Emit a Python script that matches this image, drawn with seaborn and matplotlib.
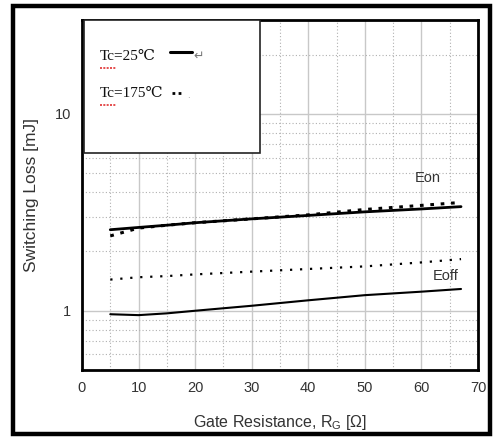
import matplotlib
matplotlib.use("Agg")
import matplotlib.pyplot as plt
from matplotlib.patches import Rectangle
from matplotlib.lines import Line2D
from matplotlib.ticker import FixedLocator, NullFormatter
import seaborn as sns
import pandas as pd

# ---- data ----
rg = [5, 10, 15, 20, 30, 40, 50, 60, 67]
eon_25 = [2.58, 2.65, 2.72, 2.80, 2.93, 3.05, 3.18, 3.29, 3.38]
eon_175 = [2.40, 2.63, 2.72, 2.80, 2.93, 3.07, 3.27, 3.43, 3.55]
eoff_25 = [0.96, 0.95, 0.97, 1.00, 1.06, 1.13, 1.20, 1.25, 1.29]
eoff_175 = [1.44, 1.48, 1.50, 1.53, 1.58, 1.63, 1.68, 1.76, 1.83]

x_ticks = [0, 10, 20, 30, 40, 50, 60, 70]
y_ticks = [1, 10]
y_tick_labels = ["1", "10"]
legend_labels = ["Tc=25℃", "Tc=175℃"]
curve_labels = ["Eon", "Eoff"]

df = pd.concat([
    pd.DataFrame({"Rg": rg, "E": eon_25, "series": "Eon 25"}),
    pd.DataFrame({"Rg": rg, "E": eon_175, "series": "Eon 175"}),
    pd.DataFrame({"Rg": rg, "E": eoff_25, "series": "Eoff 25"}),
    pd.DataFrame({"Rg": rg, "E": eoff_175, "series": "Eoff 175"}),
])

sns.set_theme(style="white")
plt.rcParams["font.family"] = ["Liberation Sans", "DejaVu Sans"]

fig = plt.figure(figsize=(4.93, 4.38), dpi=100)
ax = fig.add_axes([82 / 493, 1 - 370 / 438, (478 - 82) / 493, (370 - 20) / 438])

styles = {
    "Eon 25": dict(lw=2.0, ls="-"),
    "Eon 175": dict(lw=2.2, ls=(0, (1.2, 2.2))),
    "Eoff 25": dict(lw=1.5, ls="-"),
    "Eoff 175": dict(lw=1.6, ls=(0, (1.0, 3.5))),
}
for name, st in styles.items():
    sub = df[df["series"] == name]
    sns.lineplot(data=sub, x="Rg", y="E", ax=ax, color="black",
                 linewidth=st["lw"], linestyle=st["ls"], zorder=3,
                 legend=False, estimator=None)

ax.set_yscale("log")
ax.set_xlim(0, 70)
ax.set_ylim(0.5, 30)

ax.xaxis.set_major_locator(FixedLocator(x_ticks))
ax.xaxis.set_minor_locator(FixedLocator([5, 15, 25, 35, 45, 55, 65]))
ax.yaxis.set_major_locator(FixedLocator(y_ticks))
ax.set_yticklabels(y_tick_labels)
ax.yaxis.set_minor_locator(FixedLocator([0.6, 0.7, 0.8, 0.9, 2, 3, 4, 5, 6, 7, 8, 9, 20, 30]))
ax.yaxis.set_minor_formatter(NullFormatter())

ax.grid(which="major", color="#c8c8c8", lw=1.0, ls="-", zorder=0)
ax.grid(which="minor", color="#b0b0b0", lw=0.8, ls=(0, (1, 2)), zorder=0)
ax.tick_params(which="both", length=0, labelsize=10.5, colors="#333333", pad=8)

for s in ax.spines.values():
    s.set_color("black")
    s.set_linewidth(2.0)

ax.set_xlabel("Gate Resistance, R$_\\mathregular{G}$ [Ω]", fontsize=11.5, color="#333333", labelpad=13)
ax.set_ylabel("Switching Loss [mJ]", fontsize=12.5, color="#333333", labelpad=11)

# curve labels
ax.text(58.8, 4.7, curve_labels[0], fontsize=10.5, color="#333333", va="center", zorder=4)
ax.text(62.0, 1.51, curve_labels[1], fontsize=10.5, color="#333333", va="center", zorder=4)

# legend-like box (pasted text box in reference)
box = Rectangle((0.005, 0.62), 0.444, 0.38, transform=ax.transAxes,
                facecolor="white", edgecolor="#222222", lw=1.2, zorder=5)
ax.add_patch(box)
serif = ["Liberation Serif", "DejaVu Serif", "Noto Sans CJK SC"]
ax.text(0.045, 0.897, legend_labels[0], transform=ax.transAxes, fontsize=11,
        family=serif, va="center", color="#111111", zorder=6)
ax.text(0.045, 0.79, legend_labels[1], transform=ax.transAxes, fontsize=11,
        family=serif, va="center", color="#111111", zorder=6)
ax.add_line(Line2D([0.222, 0.277], [0.909, 0.909], transform=ax.transAxes,
                   color="black", lw=2.2, zorder=6))
ax.text(0.281, 0.897, "↵", transform=ax.transAxes, fontsize=9,
        family=["DejaVu Sans"], va="center", color="#777777", zorder=6)
ax.add_line(Line2D([0.228, 0.255], [0.792, 0.792], transform=ax.transAxes,
                   color="black", lw=2.0, ls=(0, (1, 1.2)), zorder=6))
ax.text(0.265, 0.785, ".", transform=ax.transAxes, fontsize=7,
        va="center", color="#999999", zorder=6)
# red spell-check underlines
for yy in (0.862, 0.756):
    ax.add_line(Line2D([0.045, 0.085], [yy, yy], transform=ax.transAxes,
                       color="#e03030", lw=1.2, ls=(0, (1.2, 0.8)), zorder=6))

# outer frame
fig.patches.append(Rectangle((13 / 493, (438 - 434) / 438), 477 / 493, 428.5 / 438,
                             transform=fig.transFigure, fill=False,
                             edgecolor="black", lw=3.2))

fig.savefig("out.png", dpi=100, facecolor="white")
